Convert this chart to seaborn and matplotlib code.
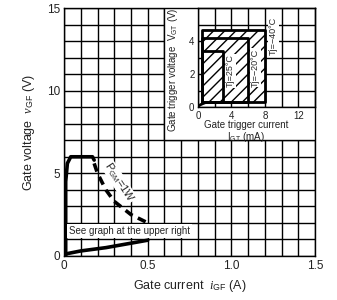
import matplotlib
matplotlib.use("Agg")
import matplotlib.pyplot as plt
import seaborn as sns
import pandas as pd
from matplotlib.patches import Rectangle
from matplotlib.ticker import MultipleLocator, FixedLocator

# main chart data (gate current A, gate voltage V)
gate_i = [0.01, 0.01, 0.02, 0.04, 0.17, 0.18]
gate_v = [0.0, 4.5, 5.6, 6.0, 6.0, 5.8]
low_i = [0.0, 0.1, 0.25, 0.5]
low_v = [0.1, 0.3, 0.5, 0.95]
pgm_i = [0.18, 0.2, 0.25, 0.3, 0.4, 0.5]
pgm_v = [5.6, 5.0, 4.0, 3.3, 2.5, 2.0]

# inset data (gate trigger current mA, gate trigger voltage V)
temps = ["Tj=25°C", "Tj=\u221220°C", "Tj=\u221240°C"]
igt_left = 0.5
vgt_bottom = 0.3
igt_right = [3, 6, 8]
vgt_top = [3.4, 4.2, 4.7]
foot_i = [0.0, 0.3, 0.6, 1.0]
foot_v = [0.05, 0.15, 0.22, 0.3]

sns.set_theme(style="white")
plt.rcParams['font.family'] = ['Liberation Sans', 'DejaVu Sans']
plt.rcParams['mathtext.fontset'] = 'custom'
plt.rcParams['mathtext.rm'] = 'Liberation Sans'
plt.rcParams['mathtext.sf'] = 'Liberation Sans'
plt.rcParams['mathtext.it'] = 'Liberation Serif:italic'

fig = plt.figure(figsize=(3.37, 3.0), dpi=100)
ax = fig.add_axes([0.19, 0.147, 0.745, 0.826])

grid_kw = dict(color='black', linewidth=1.0)
ax.set_xlim(0, 1.5)
ax.set_ylim(0, 15)
ax.xaxis.set_major_locator(FixedLocator([0, 0.5, 1.0, 1.5]))
ax.set_xticklabels(["0", "0.5", "1.0", "1.5"])
ax.xaxis.set_minor_locator(MultipleLocator(0.1))
ax.yaxis.set_major_locator(MultipleLocator(5))
ax.yaxis.set_minor_locator(MultipleLocator(1))
ax.grid(True, which='both', **grid_kw)
ax.set_axisbelow(True)
ax.tick_params(which='both', length=0, labelsize=8.5, colors='#222222', pad=3)
for s in ax.spines.values():
    s.set_color('black')
    s.set_linewidth(1.0)

line_kw = dict(x='i', y='v', sort=False, estimator=None, color='black')
df_gate = pd.DataFrame({'i': gate_i, 'v': gate_v})
df_low = pd.DataFrame({'i': low_i, 'v': low_v})
df_pgm = pd.DataFrame({'i': pgm_i, 'v': pgm_v})
sns.lineplot(data=df_gate, lw=2.6, ax=ax, zorder=4, **line_kw)
sns.lineplot(data=df_low, lw=2.6, ax=ax, zorder=4, **line_kw)
sns.lineplot(data=df_pgm, lw=2.6, ax=ax, zorder=4, linestyle=(0, (2.4, 1.6)), **line_kw)

ax.set_xlabel(r'Gate current  $\mathit{i}_{\mathsf{GF}}$ (A)', fontsize=9, color='#222222', labelpad=4)
ax.set_ylabel(r'Gate voltage  $\mathit{v}_{\mathsf{GF}}$ (V)', fontsize=9, color='#222222', labelpad=7)

ax.text(0.33, 4.45, r'P$_{\mathsf{GM}}$=1W', rotation=-57, fontsize=8, ha='center', va='center',
        zorder=5, bbox=dict(facecolor='white', edgecolor='none', pad=0.3))
ax.text(0.03, 1.5, 'See graph at the upper right', fontsize=7, ha='left', va='center',
        zorder=5, bbox=dict(facecolor='white', edgecolor='none', pad=1.2))

# white area for the inset
ax.add_patch(Rectangle((0.6, 7), 0.9, 8, facecolor='white', edgecolor='black', lw=1.0, zorder=3))

ins = ax.inset_axes([0.8, 9, 0.7, 6], transform=ax.transData, zorder=6)
ins.set_facecolor('white')
ins.set_xlim(0, 14)
ins.set_ylim(0, 6)
ins.xaxis.set_major_locator(FixedLocator([0, 4, 8, 12]))
ins.xaxis.set_minor_locator(MultipleLocator(2))
ins.yaxis.set_major_locator(FixedLocator([0, 2, 4]))
ins.yaxis.set_minor_locator(MultipleLocator(1))
ins.grid(True, which='both', **grid_kw)
ins.set_axisbelow(True)
ins.tick_params(which='both', length=0, labelsize=7, colors='#222222', pad=2.5)
for s in ins.spines.values():
    s.set_color('black')
    s.set_linewidth(1.0)

# hatched outer region
ins.fill_between([igt_left, igt_right[2]], vgt_bottom, vgt_top[2], facecolor='white',
                 edgecolor='black', hatch='///', lw=0, zorder=2)
for r, t in zip(igt_right, vgt_top):
    box = pd.DataFrame({'i': [igt_left, igt_left, r, r, igt_left],
                        'v': [vgt_bottom, t, t, vgt_bottom, vgt_bottom]})
    sns.lineplot(data=box, lw=2.0, ax=ins, zorder=3, **line_kw)
df_foot = pd.DataFrame({'i': foot_i, 'v': foot_v})
sns.lineplot(data=df_foot, lw=2.0, ax=ins, zorder=3, **line_kw)

label_pos = [(3.9, 2.2), (6.9, 2.4), (9.0, 4.3)]
for (x, y), t in zip(label_pos, temps):
    ins.text(x, y, t, rotation=90, fontsize=6.5, ha='center', va='center', zorder=4,
             bbox=dict(facecolor='white', edgecolor='none', pad=0.6))

ins.set_xlabel('Gate trigger current\n' + r'I$_{\mathsf{GT}}$ (mA)', fontsize=7,
               color='#222222', linespacing=1.0)
ins.xaxis.set_label_coords(0.41, -0.13)
ins.set_ylabel(r'Gate trigger voltage  V$_{\mathsf{GT}}$ (V)', fontsize=7, color='#222222')
ins.yaxis.set_label_coords(-0.15, 0.38)

fig.savefig('out.png', dpi=100)
